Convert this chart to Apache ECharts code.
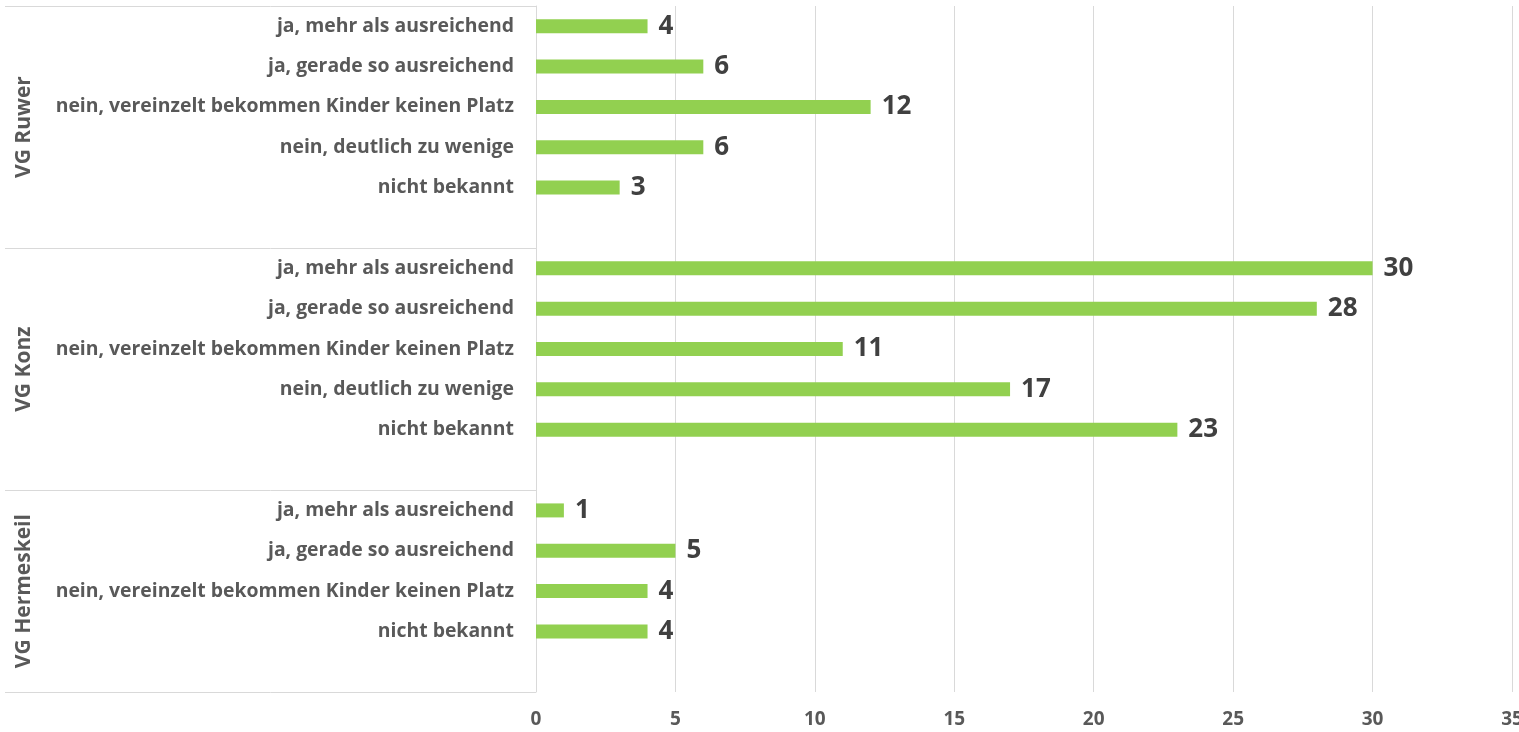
<!DOCTYPE html>
<html>
<head>
<meta charset="utf-8">
<style>html,body{margin:0;padding:0;background:#fff;}#chart{width:1519px;height:732px;}</style>
<script src="https://cdn.jsdelivr.net/npm/echarts@6/dist/echarts.min.js"></script>
</head>
<body>
<div id="chart"></div>
<script>
// Categories (empty strings are gap slots between groups)
const categories = [
  'ja, mehr als ausreichend', 'ja, gerade so ausreichend', 'nein, vereinzelt bekommen Kinder keinen Platz', 'nein, deutlich zu wenige', 'nicht bekannt', '',
  'ja, mehr als ausreichend', 'ja, gerade so ausreichend', 'nein, vereinzelt bekommen Kinder keinen Platz', 'nein, deutlich zu wenige', 'nicht bekannt', '',
  'ja, mehr als ausreichend', 'ja, gerade so ausreichend', 'nein, vereinzelt bekommen Kinder keinen Platz', 'nicht bekannt', ''
];
const values = [4, 6, 12, 6, 3, null, 30, 28, 11, 17, 23, null, 1, 5, 4, 4, null];
const groupNames = ['VG Ruwer', 'VG Konz', 'VG Hermeskeil'];
const groupBoundaries = [0, 6, 12, 17];
const groupCenters = [3, 9, 14.5];
const xTicks = [0, 5, 10, 15, 20, 25, 30, 35];

const FONT = '"Open Sans", "DejaVu Sans", sans-serif';
const chart = echarts.init(document.getElementById('chart'), null, {renderer: 'canvas'});
chart.setOption({
  backgroundColor: '#ffffff',
  animation: false,
  grid: {left: 536, right: 7, top: 6, bottom: 40, containLabel: false, outerBoundsMode: 'none'},
  xAxis: {
    type: 'value', min: xTicks[0], max: xTicks[xTicks.length - 1], interval: 5,
    axisLine: {show: false}, axisTick: {show: false},
    splitLine: {show: true, lineStyle: {color: '#d9d9d9', width: 1}},
    axisLabel: {color: '#595959', fontFamily: FONT, fontWeight: 'bold', fontSize: 19, margin: 18, hideOverlap: false}
  },
  yAxis: [
    {
      type: 'category', data: categories, inverse: true,
      axisLine: {show: true, lineStyle: {color: '#d9d9d9', width: 1}},
      axisTick: {show: false},
      axisLabel: {color: '#595959', fontFamily: FONT, fontWeight: 'bold', fontSize: 19.4, margin: 22, interval: 0}
    },
    {
      type: 'value', min: 0, max: groupBoundaries[groupBoundaries.length - 1], inverse: true, position: 'left',
      axisLine: {show: false},
      splitLine: {show: false},
      axisTick: {show: true, customValues: groupBoundaries, length: 531, lineStyle: {color: '#d9d9d9', width: 1}},
      axisLabel: {
        show: true, customValues: groupCenters, rotate: 90, margin: 501,
        color: '#595959', fontFamily: FONT, fontWeight: 'bold', fontSize: 21,
        formatter: function (v) { return groupNames[groupCenters.indexOf(v)] || ''; }
      }
    }
  ],
  series: [{
    type: 'bar', yAxisIndex: 0, data: values, barWidth: 14,
    itemStyle: {color: '#92D050'},
    label: {show: true, position: 'right', distance: 11, color: '#404040', fontFamily: FONT, fontWeight: 'bold', fontSize: 26}
  }]
});
</script>
</body>
</html>
